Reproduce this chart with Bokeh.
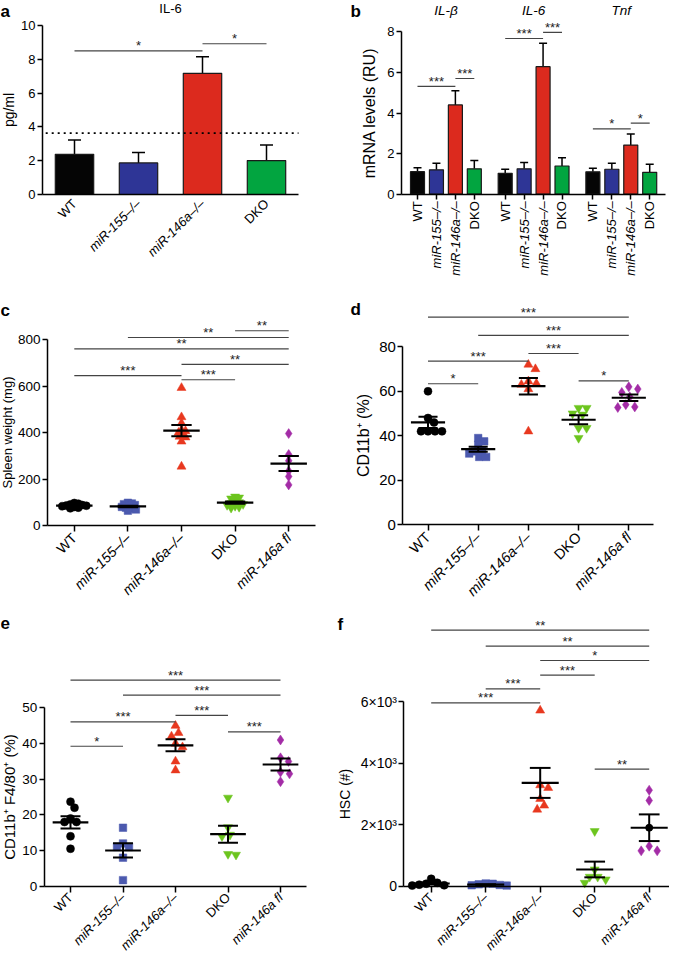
import numpy as np
from bokeh.plotting import figure
from bokeh.models import (ColumnDataSource, Range1d, LabelSet, Whisker, TeeHead, FixedTicker,
                          LinearAxis)
from bokeh.layouts import row, column
from bokeh.embed import file_html
from bokeh.resources import INLINE
from bokeh.core.properties import value

FONT = "Liberation Sans"

# ---------------- data ----------------
genotypes4 = ["WT", "miR-155–/–", "miR-146a–/–", "DKO"]
genotypes5 = ["WT", "miR-155–/–", "miR-146a–/–", "DKO", "miR-146a fl"]
italic_labels = ["miR-155–/–", "miR-146a–/–", "miR-146a fl"]

# panel a : IL-6 (pg/ml)
a_mean = [2.38, 1.87, 7.17, 2.01]
a_sem = [0.84, 0.61, 0.98, 0.92]
a_detection_limit = 3.63
a_sig_from = ["WT", "miR-146a–/–"]
a_sig_to = ["miR-146a–/–", "DKO"]
a_sig_y = [8.5, 8.92]
a_sig_text = ["*", "*"]

# panel b : mRNA levels (RU)
b_genes = ["IL-β", "IL-6", "Tnf"]
b_il1b_mean = [1.11, 1.20, 4.40, 1.25]
b_il1b_sem = [0.19, 0.32, 0.70, 0.41]
b_il6_mean = [1.03, 1.25, 6.28, 1.39]
b_il6_sem = [0.20, 0.31, 1.16, 0.40]
b_tnf_mean = [1.10, 1.23, 2.42, 1.08]
b_tnf_sem = [0.18, 0.29, 0.54, 0.40]
b_sig_gene = ["IL-β", "IL-β", "IL-6", "IL-6", "Tnf", "Tnf"]
b_sig_from = ["WT", "miR-146a–/–", "WT", "miR-146a–/–", "WT", "miR-146a–/–"]
b_sig_to = ["miR-146a–/–", "DKO", "miR-146a–/–", "DKO", "miR-146a–/–", "DKO"]
b_sig_y = [5.31, 5.70, 7.67, 7.97, 3.22, 3.50]
b_sig_text = ["***", "***", "***", "***", "*", "*"]

# panel c : spleen weight (mg)
c_wt = [97, 94, 91, 88, 86, 85, 83, 80, 77, 74]
c_155 = [98, 95, 92, 88, 84, 80, 77, 73, 69, 64]
c_146a = [593, 467, 441, 412, 407, 400, 395, 383, 380, 362, 254]
c_dko = [124, 120, 116, 104, 100, 96, 92, 88, 84, 80, 76]
c_fl = [396, 306, 279, 235, 211, 175]
c_sig_from = ["DKO", "miR-155–/–", "WT", "miR-146a–/–", "WT", "miR-146a–/–"]
c_sig_to = ["miR-146a fl", "miR-146a fl", "miR-146a fl", "miR-146a fl", "miR-146a–/–", "DKO"]
c_sig_y = [839, 810, 761, 694, 646, 628]
c_sig_text = ["**", "**", "**", "**", "***", "***"]

# panel d : CD11b+ (%)
d_wt = [60, 48, 46, 42, 42, 42, 42]
d_155 = [39, 37.5, 36, 33.5, 33, 32, 30.5, 30.5]
d_146a = [72, 70, 64.5, 63.5, 63, 61, 42]
d_dko = [52.5, 52.5, 50, 49.5, 43.5, 43.5, 39]
d_fl = [62, 61, 59.5, 57.5, 54, 53, 52.7]
d_sig_from = ["WT", "miR-155–/–", "miR-146a–/–", "WT", "DKO", "WT"]
d_sig_to = ["miR-146a fl", "miR-146a fl", "DKO", "miR-146a–/–", "miR-146a fl", "miR-155–/–"]
d_sig_y = [93.3, 85.1, 77.0, 73.6, 64.7, 63.4]
d_sig_text = ["***", "***", "***", "***", "*", "*"]

# panel e : CD11b+ F4/80+ (%)
e_wt = [23.7, 22, 19, 18, 18, 14, 10.5]
e_155 = [16.4, 12, 11, 11, 8, 1.7]
e_146a = [45, 43, 42, 40, 39, 35, 32.5]
e_dko = [24.8, 16.5, 14.4, 14, 8.8, 9]
e_fl = [41, 36, 35, 32, 31.5, 29.3]
e_sig_from = ["WT", "miR-155–/–", "miR-146a–/–", "WT", "DKO", "WT"]
e_sig_to = ["miR-146a fl", "miR-146a fl", "DKO", "miR-146a–/–", "miR-146a fl", "miR-155–/–"]
e_sig_y = [57.8, 53.6, 47.9, 46.1, 43.3, 39.25]
e_sig_text = ["***", "***", "***", "***", "***", "*"]

# panel f : HSC (#)
f_wt = [240, 110, 80, 50, 30, 20]
f_155 = [90, 80, 60, 40, 30, 20]
f_146a = [5708, 3282, 3195, 2838, 2621, 2491]
f_dko = [1787, 542, 303, 303, 217, 108]
f_fl = [3119, 2783, 1300, 1148, 1148]
f_sig_from = ["WT", "miR-155–/–", "miR-146a–/–", "miR-146a–/–", "miR-155–/–", "WT", "DKO"]
f_sig_to = ["miR-146a fl", "miR-146a fl", "miR-146a fl", "DKO", "miR-146a–/–", "miR-146a–/–", "miR-146a fl"]
f_sig_y = [8318, 7798, 7332, 6856, 6412, 5957, 3802]
f_sig_text = ["**", "**", "*", "***", "***", "***", "**"]
f_tick_values = [0, 2000, 4000, 6000]
f_tick_labels = ["0", "2×10³", "4×10³", "6×10³"]

# ---------------- styles ----------------
BAR_COLORS = ["#050505", "#2E3596", "#DC2A1E", "#02A540"]
DOT_COLORS = ["#000000", "#4B59AE", "#E8381F", "#6CC51E", "#A32CA6"]
MARKERS = ["circle", "square", "triangle", "inverted_triangle", "diamond"]
MSIZE = [8, 7.5, 9, 9, 10]
SIG_COLOR = "#444444"


class Geo:
    """Canvas geometry of one panel: W x H canvas, px of group 0 centre, px per group,
    canvas row of value 0 and px per value unit."""
    def __init__(self, W, H, x0c, cat_px, y0, ppu):
        self.W, self.H, self.x0c, self.cat_px, self.y0, self.ppu = W, H, x0c, cat_px, y0, ppu

    def data_x(self, xc):
        return (xc - self.x0c) / self.cat_px

    def data_y(self, yc):
        return (self.y0 - yc) / self.ppu


def make_fig(g):
    p = figure(x_range=Range1d(g.data_x(0), g.data_x(g.W)),
               y_range=Range1d(g.data_y(g.H), g.data_y(0)),
               frame_width=g.W, frame_height=g.H, min_border=0,
               min_border_left=0, min_border_right=0, min_border_top=0, min_border_bottom=0,
               toolbar_location=None, tools="", output_backend="svg")
    p.outline_line_color = None
    p.grid.visible = False
    p.background_fill_color = "white"
    p.border_fill_color = "white"
    return p


def style_x_axis(ax, ticks, names, xbounds, fs, angle, tick_len, standoff, style, line=True):
    ax.fixed_location = 0
    ax.bounds = xbounds
    ax.ticker = FixedTicker(ticks=ticks)
    ax.major_label_overrides = {t: n for t, n in zip(ticks, names)}
    ax.major_label_orientation = angle
    ax.major_label_text_font = FONT
    ax.major_label_text_font_size = fs
    ax.major_label_text_font_style = style
    ax.major_label_text_color = "black"
    ax.major_label_standoff = standoff
    ax.axis_line_width = 1.5
    ax.axis_line_color = "black" if line else None
    ax.major_tick_in = 0
    ax.major_tick_out = tick_len
    ax.major_tick_line_width = 1.5
    ax.major_tick_line_color = "black" if tick_len > 0 else None
    ax.minor_tick_line_color = None


def style_axes(p, xpos, xnames, xbounds, ylabel, tick_fs, label_fs, yticks, ybounds,
               xfs, angle, overrides=None, xtick_len=6, xstandoff=4, label_standoff=3):
    yax = p.yaxis[0]
    yax.fixed_location = xbounds[0]
    yax.ticker = FixedTicker(ticks=yticks)
    yax.bounds = ybounds
    yax.axis_label = ylabel
    yax.axis_label_text_font = FONT
    yax.axis_label_text_font_style = "normal"
    yax.axis_label_text_font_size = label_fs
    yax.axis_label_text_color = "black"
    yax.major_label_text_font = FONT
    yax.major_label_text_font_size = tick_fs
    yax.major_label_text_color = "black"
    yax.axis_line_width = 1.5
    yax.axis_line_color = "black"
    yax.major_tick_line_width = 1.5
    yax.major_tick_in = 0
    yax.major_tick_out = 5
    yax.minor_tick_line_color = None
    yax.axis_label_standoff = label_standoff
    yax.major_label_standoff = 2
    if overrides:
        yax.major_label_overrides = overrides
    # upright tick labels on the main x axis, italic ones on a second axis at the same place
    up = [(x, n) for x, n in zip(xpos, xnames) if n not in italic_labels]
    it = [(x, n) for x, n in zip(xpos, xnames) if n in italic_labels]
    style_x_axis(p.xaxis[0], [x for x, n in up], [n for x, n in up], xbounds, xfs, angle,
                 xtick_len, xstandoff, "normal")
    ax2 = LinearAxis()
    p.add_layout(ax2, "below")
    style_x_axis(ax2, [x for x, n in it], [n for x, n in it], xbounds, xfs, angle,
                 xtick_len, xstandoff, "italic", line=False)


def sig_marks(p, x0, x1, ys, texts, fs="13px"):
    p.segment(x0=x0, y0=ys, x1=x1, y1=ys, line_color=SIG_COLOR, line_width=1.2)
    src = ColumnDataSource(dict(x=[(a + b) / 2 for a, b in zip(x0, x1)], y=ys, t=texts))
    p.add_layout(LabelSet(x="x", y="y", text="t", source=src, y_offset=0.5,
                          text_align="center", text_baseline="alphabetic",
                          text_font=value(FONT), text_font_size=value(fs),
                          text_color="#222222"))


def titles(p, xs, ys, texts, yoff, fs, style="normal"):
    p.add_layout(LabelSet(x="x", y="y", text="t",
                          source=ColumnDataSource(dict(x=xs, y=ys, t=texts)),
                          y_offset=yoff, text_align="center", text_baseline="middle",
                          text_font=value(FONT), text_font_size=value(fs),
                          text_font_style=style, text_color="black"))


def letter(p, g, txt, xc, yc_top):
    p.add_layout(LabelSet(x="x", y="y", text="t",
                          source=ColumnDataSource(dict(x=[g.data_x(xc)], y=[g.data_y(yc_top)],
                                                       t=[txt])),
                          text_align="left", text_baseline="top",
                          text_font=value(FONT), text_font_size=value("17px"),
                          text_font_style="bold", text_color="black"))


def swarm(vals, ppu, dmin, step=1.0):
    placed = []
    offs = [0.0] * len(vals)
    order = sorted(range(len(vals)), key=lambda i: -vals[i])
    for i in order:
        y = vals[i] * ppu
        k = 0
        found = None
        while found is None:
            cands = [0.0] if k == 0 else [k * step, -k * step]
            for c in cands:
                if all((c - px) ** 2 + (y - py) ** 2 >= dmin ** 2 for px, py in placed):
                    found = c
                    break
            k += 1
        placed.append((found, y))
        offs[i] = found
    return offs


# ---------------- panel a ----------------
ga = Geo(332, 282, 74, 64, 194, 16.9)
pa = make_fig(ga)
xa = list(range(len(genotypes4)))
ia = {gname: i for i, gname in enumerate(genotypes4)}
style_axes(pa, xa, genotypes4, (-0.5, 3.5), "pg/ml", "13px", "14px", [0, 2, 4, 6, 8, 10],
           (0, 10), "13px", np.pi / 4, xtick_len=0, xstandoff=7, label_standoff=1)
src_a = ColumnDataSource(dict(x=xa, top=a_mean, up=[m + s for m, s in zip(a_mean, a_sem)],
                              c=BAR_COLORS))
pa.add_layout(Whisker(source=src_a, base="x", lower="top", upper="up", dimension="height",
                      line_width=1.5, line_color="black", lower_head=None,
                      upper_head=TeeHead(size=13, line_width=1.5, line_color="black")))
pa.vbar(x="x", top="top", width=0.6, source=src_a, fill_color="c",
        line_color="#1a1a1a", line_width=1.2)
pa.segment(x0=[-0.45], x1=[3.5], y0=[a_detection_limit], y1=[a_detection_limit],
           line_color="black", line_width=1.8, line_dash="dotted")
sig_marks(pa, [ia[f] for f in a_sig_from], [ia[t] for t in a_sig_to], a_sig_y, a_sig_text)
titles(pa, [1.5], [10], ["IL-6"], 17, "13px")
letter(pa, ga, "a", 0, 1)

# ---------------- panel b ----------------
B_GAP = 0.63
gb = Geo(337, 282, 85, 18.94, 193.7, 20.3)
pb = make_fig(gb)
b_pos = [round(gi * (4 + B_GAP) + j, 3) for gi in range(3) for j in range(4)]
b_labels = [t for gname in b_genes for t in genotypes4]
b_means = b_il1b_mean + b_il6_mean + b_tnf_mean
b_sems = b_il1b_sem + b_il6_sem + b_tnf_sem
style_axes(pb, b_pos, b_labels, (-0.845, b_pos[-1] + 0.845), "mRNA levels (RU)", "13px",
           "16px", [0, 2, 4, 6, 8], (0, 8), "13px", np.pi / 2, xtick_len=5, xstandoff=2,
           label_standoff=6)
src_b = ColumnDataSource(dict(x=b_pos, top=b_means,
                              up=[m + s for m, s in zip(b_means, b_sems)],
                              c=BAR_COLORS * 3))
pb.add_layout(Whisker(source=src_b, base="x", lower="top", upper="up", dimension="height",
                      line_width=1.5, line_color="black", lower_head=None,
                      upper_head=TeeHead(size=8, line_width=1.5, line_color="black")))
pb.vbar(x="x", top="top", width=0.74, source=src_b, fill_color="c",
        line_color="#1a1a1a", line_width=1.2)
gene_off = {gname: gi * (4 + B_GAP) for gi, gname in enumerate(b_genes)}
sig_marks(pb, [gene_off[gn] + ia[f] for gn, f in zip(b_sig_gene, b_sig_from)],
          [gene_off[gn] + ia[t] for gn, t in zip(b_sig_gene, b_sig_to)], b_sig_y, b_sig_text)
titles(pb, [gene_off[gn] + 1.5 for gn in b_genes], [8] * 3, b_genes, 21, "13.5px", "italic")
letter(pb, gb, "b", 18, 1)


# ---------------- dot panels ----------------
def dot_panel(g, groups, bounds, ticks, ylabel, sigs, overrides=None, tick_fs="13.5px",
              label_fs="13px", xfs="14px", mean_dot=None, dfac=0.85, label_standoff=2,
              xstandoff=4):
    cats = genotypes5
    p = make_fig(g)
    xs_c = list(range(len(cats)))
    style_axes(p, xs_c, cats, (-0.5, 4.5), ylabel, tick_fs, label_fs, ticks, bounds,
               xfs, np.pi / 4, overrides=overrides, xtick_len=6, xstandoff=xstandoff,
               label_standoff=label_standoff)
    for i, vals in enumerate(groups):
        offs = swarm(vals, g.ppu, MSIZE[i] * dfac)
        p.scatter(x=[i + o / g.cat_px for o in offs], y=vals, marker=MARKERS[i], size=MSIZE[i],
                  fill_color=DOT_COLORS[i], line_color=DOT_COLORS[i], line_width=0.5)
    means = [float(np.mean(v)) for v in groups]
    sems = [float(np.std(v, ddof=1) / np.sqrt(len(v))) for v in groups]
    p.scatter(x=xs_c, y=means, marker="dash", size=0.68 * g.cat_px,
              line_color="black", line_width=2.2)
    src = ColumnDataSource(dict(x=xs_c, lo=[m - s for m, s in zip(means, sems)],
                                hi=[m + s for m, s in zip(means, sems)]))
    p.add_layout(Whisker(source=src, base="x", lower="lo", upper="hi", dimension="height",
                         line_width=2, line_color="black", level="overlay",
                         lower_head=TeeHead(size=0.38 * g.cat_px, line_width=2, line_color="black"),
                         upper_head=TeeHead(size=0.38 * g.cat_px, line_width=2, line_color="black")))
    if mean_dot is not None:
        k = cats.index(mean_dot)
        p.scatter(x=[k], y=[means[k]], marker="circle", size=7, fill_color="black",
                  line_color="black", level="overlay")
    idx = {gname: i for i, gname in enumerate(cats)}
    s_from, s_to, s_y, s_text = sigs
    sig_marks(p, [idx[f] for f in s_from], [idx[t] for t in s_to], s_y, s_text)
    return p


gc = Geo(332, 320, 73.8, 53.6, 243, 0.2321)
pc = dot_panel(gc, [c_wt, c_155, c_146a, c_dko, c_fl], (0, 800), [0, 200, 400, 600, 800],
               "Spleen weight (mg)", (c_sig_from, c_sig_to, c_sig_y, c_sig_text),
               dfac=0.45, label_fs="13px", label_standoff=0)
letter(pc, gc, "c", 0, 18)

gd = Geo(337, 320, 95.5, 50.2, 242.3, 2.225)
pd_ = dot_panel(gd, [d_wt, d_155, d_146a, d_dko, d_fl], (0, 80), [0, 20, 40, 60, 80],
                "CD11b⁺ (%)", (d_sig_from, d_sig_to, d_sig_y, d_sig_text),
                tick_fs="15px", label_fs="16px", xfs="14.5px", label_standoff=4)
letter(pd_, gd, "d", 18, 17)

ge = Geo(332, 352, 70, 52.5, 283.7, 3.566)
pe = dot_panel(ge, [e_wt, e_155, e_146a, e_dko, e_fl], (0, 50), [0, 10, 20, 30, 40, 50],
               "CD11b⁺ F4/80⁺ (%)", (e_sig_from, e_sig_to, e_sig_y, e_sig_text),
               tick_fs="13.5px", label_fs="15px", xfs="13px", label_standoff=1, xstandoff=3)
letter(pe, ge, "e", 0, 14)

gf = Geo(337, 352, 98.7, 54.5, 283.7, 0.03078)
pf = dot_panel(gf, [f_wt, f_155, f_146a, f_dko, f_fl], (0, 6000), f_tick_values,
               "HSC (#)", (f_sig_from, f_sig_to, f_sig_y, f_sig_text),
               overrides=dict(zip(f_tick_values, f_tick_labels)), tick_fs="14px",
               label_fs="14px", xfs="13px", mean_dot="miR-146a fl", label_standoff=4,
               xstandoff=3)
letter(pf, gf, "f", 5, 12)

layout = column(row(pa, pb), row(pc, pd_), row(pe, pf))
open("out.html", "w").write(file_html(layout, INLINE))
